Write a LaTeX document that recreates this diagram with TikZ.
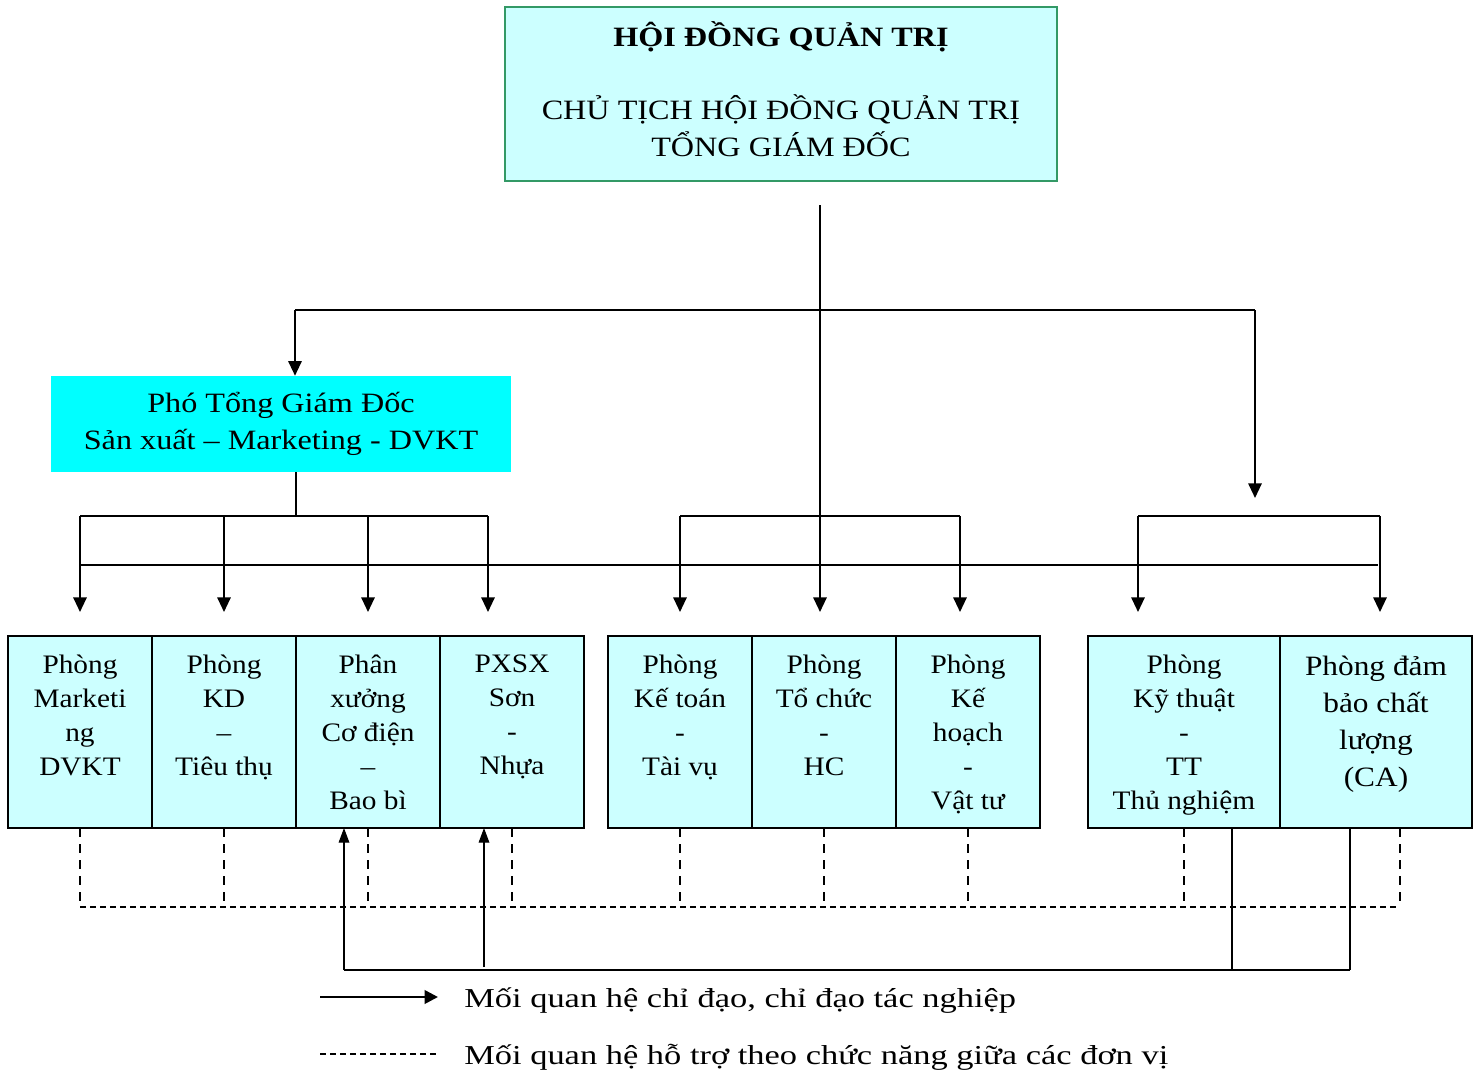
\documentclass[tikz,border=0pt]{standalone}
\usepackage{fontspec}
\setmainfont{Liberation Serif}
\newfontfamily\boxfont{Liberation Serif}[FakeStretch=1.10]
\newfontfamily\qafont{Liberation Serif}[FakeStretch=1.12]
\newfontfamily\headfont{Liberation Serif}[FakeStretch=1.15]
\newfontfamily\legfont{Liberation Serif}[FakeStretch=1.26]
\usetikzlibrary{arrows.meta}
\definecolor{lcyan}{HTML}{CCFFFF}
\definecolor{acyan}{HTML}{00FFFF}
\definecolor{bgreen}{HTML}{339966}
\begin{document}
\begin{tikzpicture}[x=0.75pt,y=-0.75pt,
  unit/.style={draw=black, line width=1.5pt, fill=lcyan, minimum width=108pt, minimum height=144pt, inner sep=0pt, outer sep=0pt},
  wunit/.style={unit, minimum width=144pt},
  utext/.style={anchor=north, align=center, inner sep=0pt, font=\boxfont\fontsize{20}{25.5}\selectfont},
  link/.style={line width=1.5pt},
  arr/.style={link, -{Triangle[length=11pt,width=10pt]}},
  uparr/.style={line width=0.9pt, -{Triangle[length=11pt,width=8pt]}},
  thin/.style={line width=0.9pt},
  vdash/.style={line width=0.9pt, dash pattern=on 7pt off 5pt},
  hdash/.style={line width=1.5pt, dash pattern=on 4.5pt off 3pt},
  legtext/.style={anchor=base west, inner sep=0pt, font=\legfont\fontsize{20.5}{24}\selectfont},
]
\useasboundingbox (0,0) rectangle (1477,1075);

% top box
\node[draw=bgreen, line width=1.5pt, fill=lcyan, minimum width=414pt, minimum height=130.5pt, inner sep=0pt] (top) at (781,94) {};
\node[align=center, inner sep=0pt, font=\headfont\fontsize{21}{27.75}\selectfont] (toptext) at (781,89)
  {{\bfseries HỘI ĐỒNG QUẢN TRỊ}\\[27pt]CHỦ TỊCH HỘI ĐỒNG QUẢN TRỊ\\TỔNG GIÁM ĐỐC};

% vice director
\node[fill=acyan, minimum width=345pt, minimum height=72pt, inner sep=0pt, align=center,
      font=\headfont\fontsize{21}{27.75}\selectfont] (vp) at (281,424)
  {Phó Tổng Giám Đốc\\Sản xuất – Marketing - DVKT};

% unit boxes
\node[unit] (b1) at (80,732) {};
\node[unit] (b2) at (224,732) {};
\node[unit] (b3) at (368,732) {};
\node[unit] (b4) at (512,732) {};
\node[unit] (c1) at (680,732) {};
\node[unit] (c2) at (824,732) {};
\node[unit] (c3) at (968,732) {};
\node[wunit] (d1) at (1184,732) {};
\node[wunit] (d2) at (1376,732) {};

\node[utext] (t1) at (80,655) {Phòng\\Marketi\\ng\\DVKT};
\node[utext] (t2) at (224,655) {Phòng\\KD\\–\\Tiêu thụ};
\node[utext] (t3) at (368,655) {Phân\\xưởng\\Cơ điện\\–\\Bao bì};
\node[utext] (t4) at (512,655) {PXSX\\Sơn\\-\\Nhựa};
\node[utext] (u1) at (680,655) {Phòng\\Kế toán\\-\\Tài vụ};
\node[utext] (u2) at (824,655) {Phòng\\Tổ chức\\-\\HC};
\node[utext] (u3) at (968,655) {Phòng\\Kế\\hoạch\\-\\Vật tư};
\node[utext] (v1) at (1184,655) {Phòng\\Kỹ thuật\\-\\TT\\Thủ nghiệm};
\node[utext, font=\qafont\fontsize{21}{27.75}\selectfont] (v2) at (1376,656) {Phòng đảm\\bảo chất\\lượng\\(CA)};

% junction coordinates
\coordinate (s0) at (820,205);
\coordinate (h1) at (295,310);
\coordinate (h2) at (1255,310);
\coordinate (h2e) at (1255,498);
\coordinate (g1) at (296,516);
\coordinate (g1l) at (80,516);
\coordinate (g1r) at (488,516);
\coordinate (g2l) at (680,516);
\coordinate (g2r) at (960,516);
\coordinate (g3l) at (1138,516);
\coordinate (g3r) at (1380,516);
\coordinate (L1) at (80,565);
\coordinate (L2) at (1378,565);
\coordinate (a1) at (80,612);
\coordinate (a2) at (224,612);
\coordinate (a3) at (368,612);
\coordinate (a4) at (488,612);
\coordinate (a5) at (680,612);
\coordinate (a6) at (820,612);
\coordinate (a7) at (960,612);
\coordinate (a8) at (1138,612);
\coordinate (a9) at (1380,612);

% main connectors
\draw[arr] (s0) -- (a6);
\draw[link] (h1) -- (h2);
\draw[arr] (h1) -- (vp.north -| h1);
\draw[arr] (h2) -- (h2e);
\draw[link] (vp.south -| g1) -- (g1);
\draw[link] (g1l) -- (g1r);
\draw[link] (g2l) -- (g2r);
\draw[link] (g3l) -- (g3r);
\draw[link] (L1) -- (L2);
\draw[arr] (g1l) -- (a1);
\draw[arr] (224,516) -- (a2);
\draw[arr] (368,516) -- (a3);
\draw[arr] (g1r) -- (a4);
\draw[arr] (g2l) -- (a5);
\draw[arr] (g2r) -- (a7);
\draw[arr] (g3l) -- (a8);
\draw[arr] (g3r) -- (a9);

% support (dashed) relations
\coordinate (D1) at (80,907);
\coordinate (D2) at (1400,907);
\foreach \n/\x in {b1/80,b2/224,b3/368,b4/512,c1/680,c2/824,c3/968,d1/1184,d2/1400}
  \draw[vdash] (\n.south -| \x,0) -- (\x,904);
\draw[hdash] (D1) -- (D2);

% bottom feedback lines
\coordinate (f1) at (344,970);
\coordinate (f2) at (484,967);
\coordinate (f3) at (1232,970);
\coordinate (f4) at (1350,970);
\draw[link] (f1) -- (f4);
\draw[thin] (d1.south -| f3) -- (f3);
\draw[thin] (d2.south -| f4) -- (f4);
\draw[uparr] (f1) -- (b3.south -| f1);
\draw[uparr] (f2) -- (b4.south -| f2);

% legend
\coordinate (la) at (320,997);
\coordinate (lb) at (438,997);
\coordinate (lc) at (320,1054);
\coordinate (ld) at (438,1054);
\draw[line width=2pt, -{Triangle[length=10pt,width=10pt]}] (la) -- (lb);
\draw[line width=1.2pt, dash pattern=on 4.5pt off 3pt] (lc) -- (ld);
\node[legtext] (l1) at (464,1007) {Mối quan hệ chỉ đạo, chỉ đạo tác nghiệp};
\node[legtext] (l2) at (464,1064) {Mối quan hệ hỗ trợ theo chức năng giữa các đơn vị};
\end{tikzpicture}
\end{document}
